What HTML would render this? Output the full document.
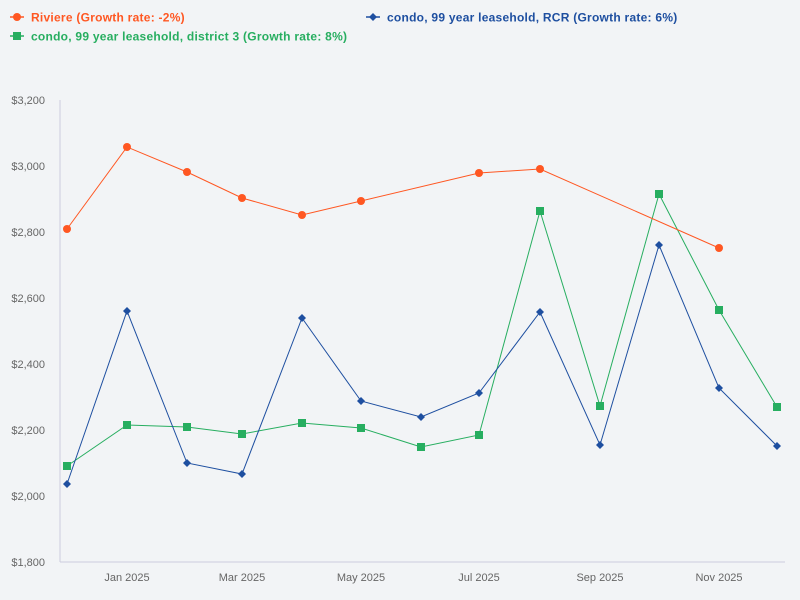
<!DOCTYPE html>
<html><head><style>body{margin:0;background:#f2f4f6}svg{display:block;font-family:"Liberation Sans",sans-serif}</style></head>
<body>
<svg width="800" height="600" viewBox="0 0 800 600">
<rect width="800" height="600" fill="#f2f4f6"/>
<g font-size="12" font-weight="bold" letter-spacing="0.25">
<line x1="10" y1="17" x2="24" y2="17" stroke="#ff5722" stroke-width="1.5"/><circle cx="17" cy="17" r="4" fill="#ff5722"/>
<text x="31" y="21.5" fill="#ff5722">Riviere (Growth rate: -2%)</text>
<line x1="10" y1="36" x2="24" y2="36" stroke="#27ae60" stroke-width="1.5"/><rect x="13" y="32" width="8" height="8" fill="#27ae60"/>
<text x="31" y="40.5" fill="#27ae60">condo, 99 year leasehold, district 3 (Growth rate: 8%)</text>
<line x1="366" y1="17" x2="380" y2="17" stroke="#1e4fa0" stroke-width="1.5"/><path d="M373 13l4 4-4 4-4-4z" fill="#1e4fa0"/>
<text x="387" y="21.5" fill="#1e4fa0">condo, 99 year leasehold, RCR (Growth rate: 6%)</text>
</g>
<line x1="60" y1="100" x2="60" y2="562" stroke="#ccd" />
<line x1="60" y1="562" x2="785" y2="562" stroke="#ccd"/>
<g font-size="11" fill="#666" text-anchor="end">
<text x="45" y="104">$3,200</text><text x="45" y="170">$3,000</text><text x="45" y="236">$2,800</text><text x="45" y="302">$2,600</text><text x="45" y="368">$2,400</text><text x="45" y="434">$2,200</text><text x="45" y="500">$2,000</text><text x="45" y="566">$1,800</text>
</g>
<g font-size="11" fill="#666" text-anchor="middle">
<text x="127" y="581">Jan 2025</text><text x="242" y="581">Mar 2025</text><text x="361" y="581">May 2025</text><text x="479" y="581">Jul 2025</text><text x="600" y="581">Sep 2025</text><text x="719" y="581">Nov 2025</text>
</g>
<polyline fill="none" stroke="#27ae60" stroke-width="1" points="67,466 127,425 187,427 242,434 302,423 361,428 421,447 479,435 540,211 600,406 659,194 719,310 777,407"/>
<g fill="#27ae60">
<rect x="63" y="462" width="8" height="8"/><rect x="123" y="421" width="8" height="8"/><rect x="183" y="423" width="8" height="8"/><rect x="238" y="430" width="8" height="8"/><rect x="298" y="419" width="8" height="8"/><rect x="357" y="424" width="8" height="8"/><rect x="417" y="443" width="8" height="8"/><rect x="475" y="431" width="8" height="8"/><rect x="536" y="207" width="8" height="8"/><rect x="596" y="402" width="8" height="8"/><rect x="655" y="190" width="8" height="8"/><rect x="715" y="306" width="8" height="8"/><rect x="773" y="403" width="8" height="8"/>
</g>
<polyline fill="none" stroke="#1e4fa0" stroke-width="1" points="67,484 127,311 187,463 242,474 302,318 361,401 421,417 479,393 540,312 600,445 659,245 719,388 777,446"/>
<g fill="#1e4fa0">
<path d="M67 480l4 4-4 4-4-4z"/><path d="M127 307l4 4-4 4-4-4z"/><path d="M187 459l4 4-4 4-4-4z"/><path d="M242 470l4 4-4 4-4-4z"/><path d="M302 314l4 4-4 4-4-4z"/><path d="M361 397l4 4-4 4-4-4z"/><path d="M421 413l4 4-4 4-4-4z"/><path d="M479 389l4 4-4 4-4-4z"/><path d="M540 308l4 4-4 4-4-4z"/><path d="M600 441l4 4-4 4-4-4z"/><path d="M659 241l4 4-4 4-4-4z"/><path d="M719 384l4 4-4 4-4-4z"/><path d="M777 442l4 4-4 4-4-4z"/>
</g>
<polyline fill="none" stroke="#ff5722" stroke-width="1" points="67,229 127,147 187,172 242,198 302,215 361,201 479,173 540,169 719,248"/>
<g fill="#ff5722">
<circle cx="67" cy="229" r="4"/><circle cx="127" cy="147" r="4"/><circle cx="187" cy="172" r="4"/><circle cx="242" cy="198" r="4"/><circle cx="302" cy="215" r="4"/><circle cx="361" cy="201" r="4"/><circle cx="479" cy="173" r="4"/><circle cx="540" cy="169" r="4"/><circle cx="719" cy="248" r="4"/>
</g>
</svg>
</body></html>
